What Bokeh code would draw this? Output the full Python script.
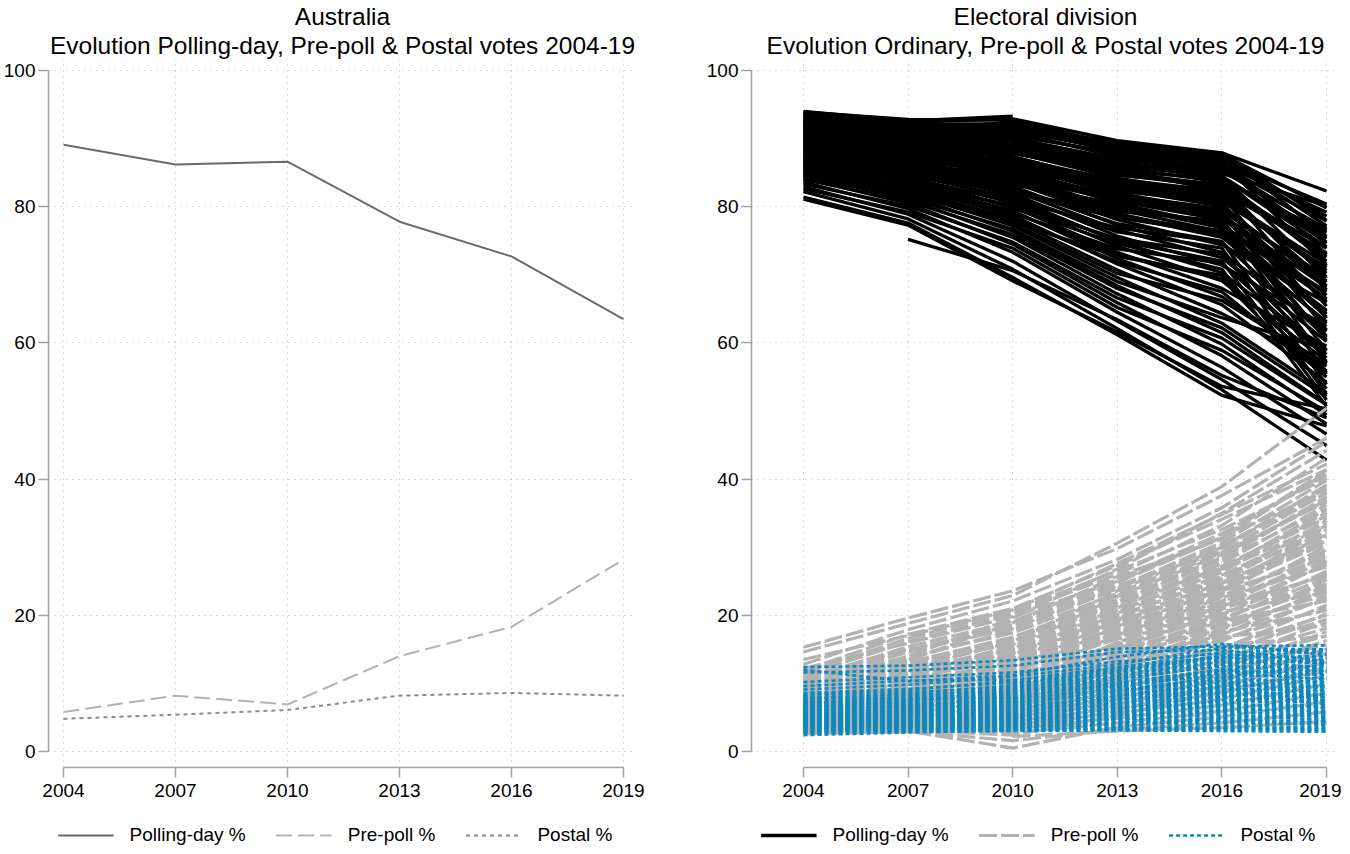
from bokeh.plotting import figure
from bokeh.models import (Range1d, FixedTicker, Title, Legend, LegendItem,
                          ColumnDataSource)
from bokeh.layouts import row, column
from bokeh.embed import file_html
from bokeh.resources import INLINE

YEARS = [2004, 2007, 2010, 2013, 2016, 2019]
Y_TICKS = [0, 20, 40, 60, 80, 100]

# ---- Australia totals ----
aus_polling = [89.1, 86.2, 86.6, 77.8, 72.7, 63.5]
aus_prepoll = [5.8, 8.2, 6.9, 14.0, 18.3, 28.2]
aus_postal = [4.8, 5.4, 6.1, 8.2, 8.6, 8.2]

# ---- Electoral divisions (2004, 2007, 2010, 2013, 2016, 2019) ----
div_ordinary = [
    [94.0, 92.6, 93.3, None, None, None],
    [93.7, 92.4, 92.9, 89.7, 87.9, 82.3],
    [93.4, 92.1, 92.2, 89.3, 87.7, 79.8],
    [93.1, 91.9, 91.8, 88.9, 87.9, 75.6],
    [92.9, 91.5, 91.2, 88.3, 86.8, 80.4],
    [92.6, 91.2, 90.8, 87.6, 85.9, 77.9],
    [92.4, 90.7, 90.1, 87.0, 85.2, 76.8],
    [92.1, 90.4, 89.6, 86.1, 84.3, 74.1],
    [91.8, 90.0, 89.2, 85.8, 83.6, 72.6],
    [91.6, 89.6, 88.5, 84.9, 82.7, 73.9],
    [91.3, 89.3, 88.0, 84.2, 81.8, 70.2],
    [91.0, 88.8, 87.4, 83.4, 81.2, 71.6],
    [90.7, 88.5, 86.9, 82.6, 80.1, 68.4],
    [90.5, 88.1, 86.4, 82.0, 79.3, 69.7],
    [90.2, 87.7, 85.7, 81.1, 78.4, 66.3],
    [89.9, 87.4, 85.3, 80.5, 77.2, 67.5],
    [89.6, 87.0, 84.8, 79.6, 76.3, 64.8],
    [89.3, 86.6, 84.1, 78.8, 75.5, 63.1],
    [89.0, 86.2, 83.6, 78.1, 74.4, 65.9],
    [88.7, 85.9, 83.0, 77.3, 73.3, 61.7],
    [88.4, 85.5, 82.4, 76.6, 72.5, 60.2],
    [88.1, 85.0, 81.9, 75.7, 71.4, 62.4],
    [87.8, 84.7, 81.3, 74.9, 70.3, 58.8],
    [87.4, 84.3, 80.6, 74.2, 69.1, 57.3],
    [87.1, 83.8, 80.0, 73.3, 68.0, 59.5],
    [86.8, 83.5, 79.4, 72.4, 66.8, 55.9],
    [86.4, 83.0, 78.7, 71.6, 65.6, 54.2],
    [86.0, 82.6, 78.0, 70.7, 64.3, 56.6],
    [85.6, 82.1, 77.2, 69.6, 62.9, 52.7],
    [85.2, 81.7, 76.4, 68.4, 61.5, 51.0],
    [84.7, 81.1, 75.5, 67.2, 59.8, 49.4],
    [84.2, 80.5, 74.5, 65.9, 58.1, 48.1],
    [83.6, 79.7, 73.3, 64.5, 56.4, 46.6],
    [82.9, 78.9, 72.0, 63.2, 54.6, 44.9],
    [82.2, 78.2, 70.8, 62.1, 53.1, 42.8],
    [81.4, 77.6, 69.6, 61.2, 52.3, 47.8],
    [81.1, 77.3, 69.1, 61.6, 53.6, 50.3],
    [None, 75.2, 70.6, 63.4, 55.2, 49.0],
    [None, None, 91.9, 89.4, 87.8, 78.0],
    [92.3, 91.0, 92.5, 88.6, 86.2, 79.2],
    [91.9, 90.6, 91.0, 87.3, 85.5, 75.3],
    [90.9, 89.9, 88.9, 86.5, 84.9, 80.1],
    [90.1, 88.9, 87.8, 85.3, 84.0, 76.2],
    [89.4, 88.3, 86.7, 84.0, 82.3, 73.2],
    [88.9, 87.2, 86.0, 83.1, 80.8, 71.0],
    [88.2, 86.9, 85.0, 81.7, 79.7, 69.1],
    [87.5, 86.3, 84.4, 80.9, 78.9, 67.0],
    [86.9, 85.2, 83.3, 79.9, 77.6, 63.8],
    [86.2, 84.9, 82.0, 78.4, 76.0, 62.9],
    [85.4, 84.0, 81.0, 76.9, 74.8, 60.8],
    [84.9, 83.3, 80.2, 75.3, 73.0, 58.3],
    [84.4, 82.7, 79.0, 73.8, 71.7, 57.8],
    [83.9, 82.0, 77.8, 72.7, 69.9, 55.4],
    [93.9, 92.8, 92.7, 89.0, 87.4, 77.2],
    [92.7, 92.2, 91.6, 88.1, 86.3, 74.6],
    [91.4, 90.9, 90.0, 86.8, 83.8, 72.0],
    [90.3, 89.5, 89.1, 85.6, 82.2, 68.9],
    [88.5, 87.9, 86.2, 82.9, 80.4, 66.0],
    [87.0, 86.8, 85.1, 81.4, 79.1, 64.2],
    [85.8, 85.6, 83.8, 80.1, 76.9, 61.0],
    [93.5, 91.4, 92.0, 88.4, 87.2, 73.0],
    [93.0, 91.7, 90.4, 87.9, 86.6, 71.3],
    [92.8, 90.2, 89.9, 86.5, 84.6, 69.5],
    [92.2, 90.8, 89.0, 85.1, 83.1, 67.8],
    [91.7, 89.1, 88.3, 84.7, 82.9, 65.4],
    [91.1, 89.4, 87.2, 83.8, 81.5, 63.6],
    [90.6, 88.0, 86.6, 82.3, 80.7, 61.9],
    [90.0, 88.6, 85.9, 81.9, 79.0, 60.4],
    [89.5, 86.9, 85.5, 80.8, 78.1, 58.9],
    [89.1, 87.6, 84.3, 79.3, 77.9, 57.1],
    [88.6, 86.4, 83.8, 78.5, 76.5, 55.6],
    [88.0, 85.3, 82.7, 77.5, 74.9, 53.9],
    [87.6, 85.7, 81.6, 76.3, 73.9, 52.4],
    [87.2, 84.1, 80.9, 75.0, 72.0, 51.6],
    [86.6, 84.4, 79.8, 74.6, 70.8, 50.7],
    [86.1, 83.1, 79.2, 73.0, 69.4, 53.3],
    [85.5, 82.4, 78.3, 71.9, 67.5, 55.0],
    [85.0, 81.9, 77.5, 70.2, 66.2, 56.9],
    [84.6, 81.3, 76.7, 69.0, 63.7, 59.0],
    [84.0, 80.8, 75.9, 68.0, 62.2, 52.1],
    [83.3, 80.1, 74.8, 66.6, 60.7, 50.9],
    [82.6, 79.2, 73.9, 65.2, 58.9, 49.9],
    [92.0, 91.3, 91.4, 89.0, 86.9, 78.6],
    [91.5, 90.1, 90.6, 87.7, 85.7, 76.5],
    [90.8, 89.7, 88.7, 86.3, 84.5, 74.8],
    [89.8, 88.2, 87.9, 84.6, 83.3, 72.9],
    [88.3, 87.3, 86.5, 83.5, 81.0, 70.6],
    [87.3, 86.0, 84.9, 81.2, 78.7, 68.2],
    [86.5, 85.8, 83.4, 80.4, 77.0, 66.5],
    [85.9, 84.5, 82.2, 79.0, 75.8, 64.6],
]

div_prepoll = [
    [15.3, 19.6, 23.6, 29.8, 37.6, 46.0],
    [14.6, 18.8, 22.9, 30.6, 38.9, 50.4],
    [12.8, 17.9, 22.1, 28.2, 35.8, 45.5],
    [11.9, 17.2, 21.0, 27.3, 34.1, 41.4],
    [11.2, 16.1, 20.2, 26.0, 33.2, 43.1],
    [10.6, 15.4, 19.1, 25.3, 32.0, 40.6],
    [10.1, 14.6, 18.3, 24.1, 30.7, 39.8],
    [9.7, 13.9, 17.4, 23.2, 29.8, 38.7],
    [9.3, 13.1, 16.8, 22.4, 28.5, 37.4],
    [9.0, 12.6, 15.9, 21.5, 27.6, 36.2],
    [8.6, 11.9, 15.2, 20.7, 26.3, 35.1],
    [8.3, 11.3, 14.6, 19.8, 25.4, 33.9],
    [8.0, 10.8, 13.8, 19.0, 24.2, 32.6],
    [7.7, 10.2, 13.1, 18.1, 23.3, 31.4],
    [7.4, 9.8, 12.5, 17.3, 22.1, 30.2],
    [7.1, 9.3, 11.8, 16.5, 21.2, 29.0],
    [6.9, 8.9, 11.2, 15.6, 20.0, 27.7],
    [6.6, 8.4, 10.6, 14.8, 19.1, 26.5],
    [6.3, 8.0, 10.0, 14.0, 18.0, 25.2],
    [6.1, 7.6, 9.4, 13.2, 17.1, 24.0],
    [5.8, 7.2, 8.8, 12.5, 16.2, 22.7],
    [5.6, 6.8, 8.3, 11.7, 15.1, 21.5],
    [5.3, 6.4, 7.7, 10.9, 14.2, 20.2],
    [5.1, 6.0, 7.2, 10.1, 13.3, 19.0],
    [4.8, 5.7, 6.6, 9.4, 12.2, 17.6],
    [4.6, 5.3, 6.1, 8.6, 11.3, 16.3],
    [4.3, 4.9, 5.5, 7.9, 10.4, 15.1],
    [4.1, 4.6, 5.0, 7.1, 9.5, 13.8],
    [3.8, 4.2, 4.4, 6.4, 8.6, 12.4],
    [3.6, 3.9, 3.9, 5.6, 7.7, 11.2],
    [3.3, 3.5, 3.3, 4.9, 6.8, 9.9],
    [3.1, 3.2, 2.7, 4.2, 5.9, 8.6],
    [2.8, 3.0, 0.5, 3.6, 5.1, 7.3],
    [2.6, 2.9, 1.6, 3.2, 4.2, 5.8],
    [None, None, 2.2, 3.0, 3.5, 4.4],
    [9.9, 14.0, 19.6, 26.8, 35.0, 44.2],
    [8.8, 13.4, 18.9, 25.7, 31.2, 41.0],
    [8.1, 12.1, 16.1, 23.6, 30.0, 39.1],
    [7.5, 11.6, 15.0, 22.8, 28.9, 36.9],
    [7.0, 10.5, 14.1, 21.1, 27.2, 34.6],
    [6.5, 9.6, 13.3, 20.3, 25.9, 33.2],
    [6.0, 9.0, 12.1, 19.4, 24.7, 31.8],
    [5.5, 8.2, 11.4, 18.4, 23.6, 28.3],
    [5.0, 7.5, 10.3, 17.1, 22.6, 27.1],
    [4.5, 6.7, 9.6, 16.0, 21.4, 25.8],
    [4.0, 6.1, 8.6, 15.1, 20.5, 23.4],
    [3.5, 5.5, 7.9, 13.6, 19.2, 22.1],
    [3.0, 4.8, 7.0, 12.3, 17.6, 20.7],
    [12.2, 15.9, 19.8, 25.0, 31.5, 41.3],
    [10.9, 15.0, 18.0, 24.4, 29.3, 38.0],
    [9.5, 12.9, 16.4, 21.9, 26.8, 35.5],
    [8.4, 11.8, 14.9, 20.0, 25.1, 33.0],
    [7.8, 10.9, 13.5, 18.6, 24.6, 30.9],
    [7.2, 10.0, 12.8, 17.7, 22.9, 29.6],
    [6.7, 9.2, 11.9, 16.9, 21.7, 28.0],
    [6.2, 8.6, 10.9, 15.3, 20.9, 26.0],
    [5.7, 7.9, 10.2, 14.4, 19.7, 24.6],
    [5.2, 7.0, 9.1, 13.5, 18.5, 23.0],
    [4.7, 6.3, 8.0, 12.0, 16.8, 18.5],
    [4.2, 5.2, 6.9, 10.6, 15.6, 16.9],
    [13.5, 17.0, 20.8, 27.6, 34.8, 42.2],
    [11.5, 16.6, 20.6, 26.5, 32.6, 40.1],
    [10.4, 14.9, 18.6, 24.8, 31.4, 38.3],
    [9.6, 13.6, 17.8, 23.9, 30.3, 37.9],
    [9.1, 12.8, 16.6, 22.9, 29.2, 36.6],
    [8.7, 12.3, 16.2, 22.0, 28.1, 35.7],
    [8.2, 11.5, 15.5, 21.2, 27.0, 34.3],
    [7.9, 11.1, 14.3, 20.5, 26.7, 33.5],
    [7.6, 10.6, 13.9, 19.6, 25.7, 32.2],
    [7.3, 10.1, 12.9, 18.9, 24.9, 31.0],
    [7.0, 9.5, 12.3, 18.2, 23.9, 30.6],
    [6.8, 9.1, 11.6, 17.5, 22.8, 29.3],
    [6.5, 8.7, 11.0, 16.7, 21.9, 28.6],
    [6.2, 8.3, 10.5, 15.9, 21.0, 27.4],
    [5.9, 7.8, 9.8, 15.0, 20.2, 26.2],
    [5.7, 7.4, 9.2, 14.2, 19.4, 25.5],
    [5.4, 6.9, 8.6, 13.3, 18.8, 24.3],
    [5.2, 6.6, 8.1, 12.8, 17.9, 23.6],
    [4.9, 6.2, 7.5, 11.9, 17.3, 22.4],
    [4.7, 5.9, 7.0, 11.2, 16.5, 21.1],
    [4.4, 5.6, 6.4, 10.4, 15.3, 20.0],
    [4.2, 5.0, 5.8, 9.8, 14.6, 19.4],
    [3.9, 4.7, 5.3, 9.0, 13.7, 18.1],
    [3.7, 4.3, 4.8, 8.2, 12.9, 17.0],
    [3.4, 4.0, 4.2, 7.6, 11.8, 15.7],
    [3.2, 3.7, 3.6, 6.8, 10.9, 14.4],
    [2.9, 3.4, 3.1, 6.0, 9.8, 13.1],
    [2.7, 3.1, 2.4, 5.3, 8.9, 11.8],
    [10.0, 13.3, 15.7, 21.8, 28.4, 37.0],
    [8.9, 11.4, 14.4, 19.2, 23.8, 31.9],
]

div_postal = [
    [12.4, 12.6, 13.4, 15.1, 15.4, 15.6],
    [12.0, 10.3, 11.2, 13.9, 15.8, 14.2],
    [11.6, 11.9, 12.6, 14.6, 14.9, 13.3],
    [9.1, 9.8, 11.0, 12.8, 15.2, 15.0],
    [8.6, 9.2, 10.1, 12.0, 13.8, 12.9],
    [8.2, 8.7, 9.5, 11.3, 13.2, 12.4],
    [7.8, 8.3, 9.0, 10.7, 12.5, 11.8],
    [7.5, 7.9, 8.6, 10.2, 11.9, 11.2],
    [7.2, 7.6, 8.2, 9.7, 11.3, 10.7],
    [6.9, 7.2, 7.8, 9.2, 10.8, 10.2],
    [6.6, 6.9, 7.4, 8.8, 10.2, 9.7],
    [6.3, 6.6, 7.1, 8.4, 9.7, 9.3],
    [6.0, 6.3, 6.7, 8.0, 9.2, 8.8],
    [5.8, 6.0, 6.4, 7.6, 8.7, 8.4],
    [5.5, 5.7, 6.1, 7.2, 8.2, 8.0],
    [5.3, 5.5, 5.8, 6.8, 7.8, 7.6],
    [5.0, 5.2, 5.5, 6.4, 7.3, 7.2],
    [4.8, 5.0, 5.2, 6.1, 6.9, 6.8],
    [4.6, 4.7, 4.9, 5.7, 6.5, 6.4],
    [4.4, 4.5, 4.7, 5.4, 6.1, 6.0],
    [4.2, 4.3, 4.4, 5.1, 5.7, 5.6],
    [4.0, 4.1, 4.2, 4.8, 5.3, 5.2],
    [3.8, 3.9, 4.0, 4.5, 4.9, 4.8],
    [3.6, 3.7, 3.8, 4.2, 4.5, 4.4],
    [3.4, 3.5, 3.6, 3.9, 4.1, 4.0],
    [3.2, 3.3, 3.4, 3.6, 3.7, 3.6],
    [3.0, 3.1, 3.2, 3.3, 3.3, 3.2],
    [2.7, 2.9, 3.0, 3.1, 3.0, 2.9],
    [2.4, 2.8, 3.1, 3.4, 3.5, 3.3],
    [7.0, 8.1, 9.3, 11.6, 13.6, 14.1],
    [6.4, 7.4, 8.8, 10.9, 12.9, 13.5],
    [5.9, 6.8, 8.0, 10.0, 12.1, 12.6],
    [5.4, 6.2, 7.3, 9.4, 11.5, 11.9],
    [4.9, 5.8, 6.9, 8.9, 10.9, 11.4],
    [4.5, 5.3, 6.3, 8.2, 10.1, 10.9],
    [4.1, 4.9, 5.9, 7.6, 9.5, 10.4],
    [3.7, 4.4, 5.4, 7.0, 8.9, 9.8],
    [3.3, 4.0, 4.8, 6.3, 8.1, 9.1],
    [2.9, 3.6, 4.3, 5.7, 7.4, 8.5],
    [8.0, 7.7, 7.9, 9.0, 10.4, 8.2],
    [7.3, 7.0, 7.3, 8.3, 9.6, 7.5],
    [6.7, 6.5, 6.8, 7.7, 8.8, 6.9],
    [6.1, 5.9, 6.2, 7.1, 8.0, 6.3],
    [5.6, 5.4, 5.6, 6.5, 7.2, 5.8],
    [5.1, 4.9, 5.1, 5.9, 6.6, 5.4],
    [4.7, 4.4, 4.6, 5.3, 6.0, 5.0],
    [4.3, 4.0, 4.1, 4.7, 5.4, 4.6],
    [3.9, 3.6, 3.7, 4.2, 4.8, 4.2],
    [None, 3.4, 3.5, 4.0, 4.4, 3.9],
    [10.2, 10.9, 11.6, 13.2, 14.4, 13.0],
    [9.6, 10.4, 10.5, 12.4, 13.9, 12.0],
    [None, None, 9.9, 11.8, 14.1, 14.6],
    [8.4, 9.0, 10.4, 12.3, 14.6, 14.9],
    [7.7, 8.5, 9.7, 11.9, 14.0, 13.8],
    [7.1, 7.8, 9.1, 11.1, 13.3, 13.0],
    [6.5, 7.3, 8.5, 10.5, 12.7, 12.2],
    [6.2, 6.7, 7.9, 9.9, 12.0, 11.6],
    [5.7, 6.4, 7.5, 9.6, 11.7, 10.6],
    [5.2, 5.9, 7.0, 8.6, 10.6, 10.0],
    [4.9, 5.5, 6.5, 8.1, 9.9, 9.4],
    [4.4, 5.1, 6.0, 7.4, 9.3, 8.9],
    [4.0, 4.6, 5.3, 6.7, 8.5, 8.0],
    [3.6, 4.2, 4.9, 6.0, 7.6, 7.3],
    [3.2, 3.8, 4.5, 5.5, 6.9, 6.6],
    [2.8, 3.3, 3.9, 4.9, 6.2, 5.9],
    [6.8, 7.5, 8.4, 10.0, 11.0, 12.8],
    [5.0, 5.6, 6.6, 7.9, 8.6, 9.6],
]

SERIES_LABELS = ["Polling-day %", "Pre-poll %", "Postal %"]

FONT = "Liberation Sans"
GRID = "#b4b4b4"
AXIS = "#a0a0a0"

LEFT_STYLES = [dict(line_color="#6b6b6b", line_width=2),
               dict(line_color="#b2b2b2", line_width=2, line_dash="16 6"),
               dict(line_color="#8a8a8a", line_width=2, line_dash="4 4")]
RIGHT_STYLES = [dict(line_color="black", line_width=3.3),
                dict(line_color="#b2b2b2", line_width=3.2, line_dash="18 4"),
                dict(line_color="#0a88bf", line_width=2.6, line_dash="4 3")]


def to_lines(rows):
    xs, ys = [], []
    for r in rows:
        pts = [(yr, v) for yr, v in zip(YEARS, r) if v is not None]
        xs.append([p[0] for p in pts])
        ys.append([p[1] for p in pts])
    return xs, ys


def make_fig(x_start, x_end, border_left, border_right, line1, line2):
    p = figure(frame_width=588, frame_height=709,
               x_range=Range1d(x_start, x_end), y_range=Range1d(-2.35, 101.76),
               output_backend="svg", toolbar_location=None,
               min_border_left=border_left, min_border_right=border_right,
               min_border_top=58, min_border_bottom=57)
    p.outline_line_color = None
    p.background_fill_color = "white"
    p.add_layout(Title(text=line2, align="center", text_font=FONT,
                       text_font_size="24.5px", text_font_style="normal",
                       text_line_height=1.0, text_color="black",
                       standoff=0), "above")
    p.add_layout(Title(text=line1, align="center", text_font=FONT,
                       text_font_size="24.5px", text_font_style="normal",
                       text_line_height=1.0, text_color="black",
                       standoff=0), "above")
    for ax, ticks, bnd in ((p.xaxis, YEARS, (2004, 2019)),
                           (p.yaxis, Y_TICKS, (0, 100))):
        ax.ticker = FixedTicker(ticks=ticks)
        ax.bounds = bnd
        ax.axis_line_color = AXIS
        ax.axis_line_width = 1.5
        ax.major_tick_line_color = AXIS
        ax.major_tick_line_width = 1.5
        ax.major_tick_out = 10
        ax.major_tick_in = 0
        ax.minor_tick_line_color = None
        ax.major_label_text_font = FONT
        ax.major_label_text_font_size = "19px"
        ax.major_label_text_color = "black"
    p.yaxis.major_label_standoff = 3
    p.xaxis.major_label_standoff = 6
    p.xgrid.ticker = FixedTicker(ticks=YEARS)
    p.ygrid.ticker = FixedTicker(ticks=Y_TICKS)
    for g in (p.xgrid, p.ygrid):
        g.grid_line_color = GRID
        g.grid_line_dash = "1 5"
        g.grid_line_width = 1
    return p


def legend_fig(width, border_left, border_right, styles, series):
    # a strip under each panel that only holds the legend keys; the key
    # renderers reuse the panel's series but fall outside this strip's ranges
    f = figure(width=width, height=22, x_axis_type=None, y_axis_type=None,
               x_range=Range1d(0, 1), y_range=Range1d(0, 1),
               output_backend="svg", toolbar_location=None,
               min_border_left=border_left, min_border_right=border_right,
               min_border_top=0, min_border_bottom=0)
    f.outline_line_color = None
    items = []
    for label, st, vals in zip(SERIES_LABELS, styles, series):
        r = f.line(YEARS, vals, **st)
        items.append(LegendItem(label=label, renderers=[r]))
    leg = Legend(items=items, orientation="horizontal", location="center",
                 glyph_width=56, glyph_height=20, label_height=20,
                 label_standoff=16, spacing=30, label_text_font=FONT,
                 label_text_font_size="19px", label_text_color="black",
                 border_line_color=None, background_fill_alpha=0,
                 padding=0, margin=0)
    f.add_layout(leg)
    return f


# ---- left panel ----
p1 = make_fig(2003.598, 2019.35, 41, 43, "Australia",
              "Evolution Polling-day, Pre-poll & Postal votes 2004-19")
for vals, st in zip((aus_polling, aus_prepoll, aus_postal), LEFT_STYLES):
    p1.line(YEARS, vals, **st)

# ---- right panel ----
p2 = make_fig(2002.509, 2019.372, 72, 2, "Electoral division",
              "Evolution Ordinary, Pre-poll & Postal votes 2004-19")
for rows, st in zip((div_ordinary, div_prepoll, div_postal), RIGHT_STYLES):
    xs, ys = to_lines(rows)
    p2.multi_line(xs="xs", ys="ys", source=ColumnDataSource(dict(xs=xs, ys=ys)),
                  **st)

l1 = legend_fig(672, 41, 43, LEFT_STYLES, (aus_polling, aus_prepoll, aus_postal))
l2 = legend_fig(662, 72, 2, RIGHT_STYLES,
                (div_ordinary[1], div_prepoll[0], div_postal[0]))

layout = column(row(p1, p2), row(l1, l2))
open("out.html", "w").write(file_html(layout, INLINE))
